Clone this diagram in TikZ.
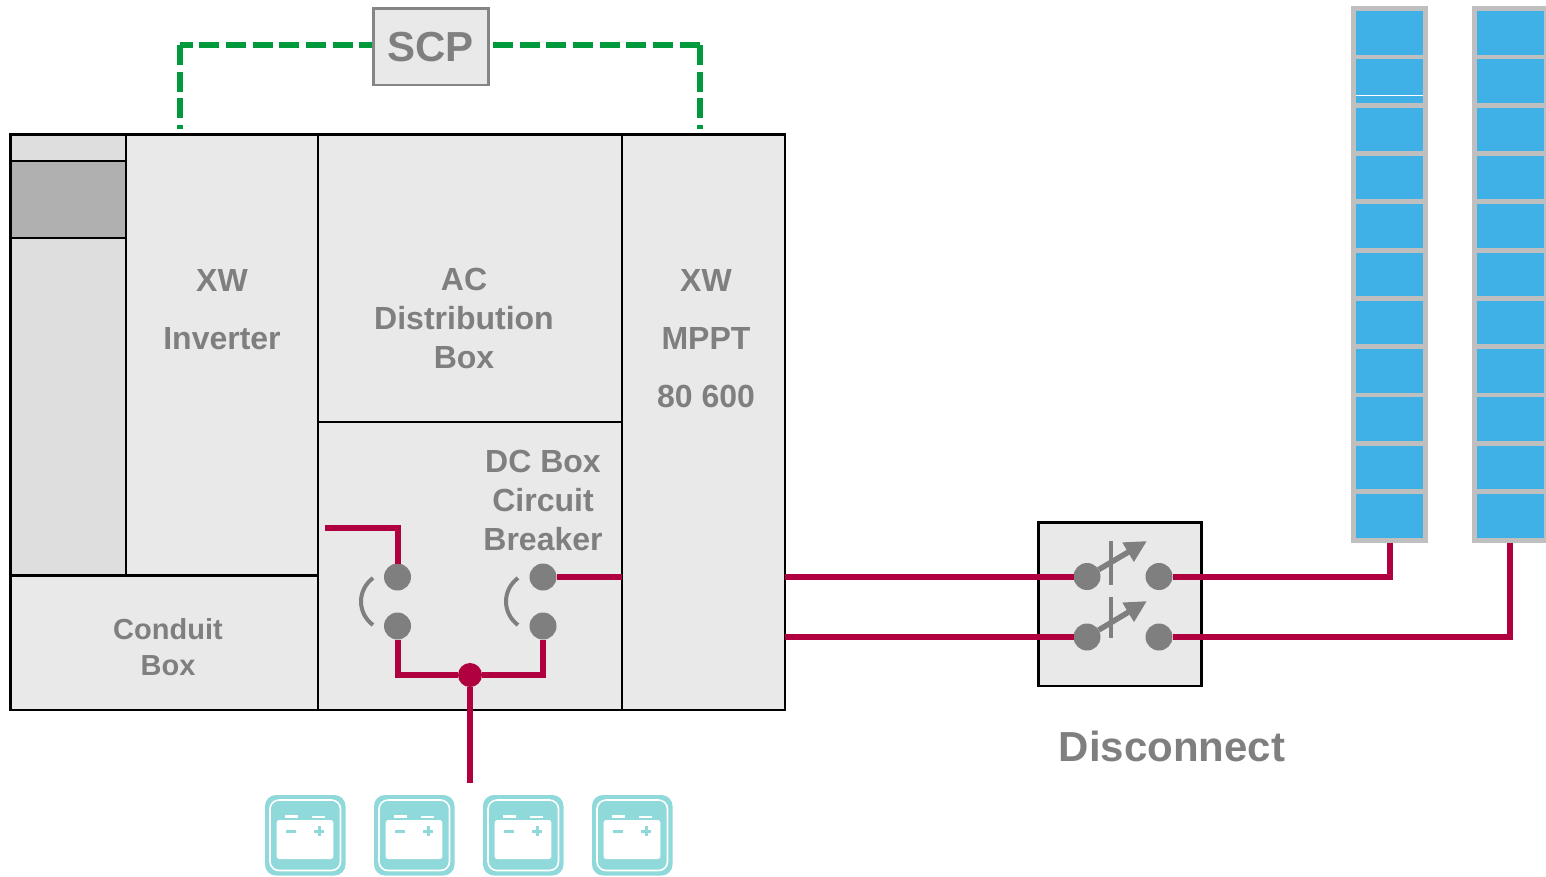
\documentclass[tikz,border=0pt]{standalone}
\usepackage{fontspec}
\setmainfont{Liberation Sans}
\usetikzlibrary{arrows.meta}
\definecolor{boxfill}{HTML}{E9E9E9}
\definecolor{leftfill}{HTML}{DEDEDE}
\definecolor{darkfill}{HTML}{B0B0B0}
\definecolor{txtgrey}{HTML}{7F7F7F}
\definecolor{wirered}{HTML}{B0003F}
\definecolor{linkgreen}{HTML}{009A3D}
\definecolor{cellblue}{HTML}{40B1E6}
\definecolor{frameg}{HTML}{BFBFBF}
\definecolor{batteal}{HTML}{8FD9DB}
\tikzset{
  x=1pt,y=-1pt,
  every node/.style={inner sep=0pt,outer sep=0pt},
  pbox/.style={draw=black,line width=2.6pt,fill=boxfill,rectangle},
  lab/.style={text=txtgrey,font=\fontsize{32}{39}\selectfont\bfseries,align=center},
  wire/.style={draw=wirered,line width=6pt},
  contact/.style={circle,fill=txtgrey,minimum size=27pt},
  gearc/.style={draw=txtgrey,line width=4pt},
  link/.style={draw=linkgreen,line width=6.5pt,dash pattern=on 20pt off 6.67pt},
  lever/.style={draw=txtgrey,line width=5.5pt,-{Triangle[length=22pt,width=21pt]}},
  divider/.style={draw=txtgrey,line width=4pt},
  cell/.style={rectangle,fill=cellblue},
  panel/.style={rectangle,fill=frameg}
}
\newcommand{\pnode}[6]{\node[#6,minimum width={((#4)-(#2))*1pt},minimum height={((#5)-(#3))*1pt}] (#1) at ({((#2)+(#4))/2},{((#3)+(#5))/2}) {};}
\begin{document}
\begin{tikzpicture}
\useasboundingbox (0,0) rectangle (1546,876);
% enclosure
\pnode{topslot}{10.5}{134.5}{126}{161}{pbox,fill=leftfill}
\pnode{darkslot}{10.5}{161}{126}{238}{pbox,fill=darkfill}
\pnode{lowslot}{10.5}{238}{126}{575.5}{pbox,fill=leftfill}
\pnode{inverter}{126}{134.5}{318}{575.5}{pbox}
\pnode{conduit}{10.5}{575.5}{318}{710}{pbox}
\pnode{acbox}{318}{134.5}{622}{422}{pbox}
\pnode{dcbox}{318}{422}{622}{710}{pbox}
\pnode{mppt}{622}{134.5}{785}{710}{pbox}
% labels
\node[lab,font=\fontsize{32}{58}\selectfont\bfseries] (invlab) at (222,309.5) {XW\\Inverter};
\node[lab] (aclab) at (464,318.7) {AC\\Distribution\\Box};
\node[lab,font=\fontsize{32}{58}\selectfont\bfseries] (mpptlab) at (706,339) {XW\\MPPT\\80 600};
\node[lab] (dclab) at (543,500.3) {DC Box\\Circuit\\Breaker};
\node[lab,font=\fontsize{29}{36}\selectfont\bfseries] (condlab) at (168,647) {Conduit\\Box};
\node[lab,font=\fontsize{42}{48}\selectfont\bfseries] (disclab) at (1172,746.5) {Disconnect};
% SCP link
\coordinate (gl) at (180,129);
\coordinate (gr) at (700,129);
\coordinate (cl) at (180,45);
\coordinate (cr) at (700,45);
\coordinate (scpl) at (379.3,45);
\coordinate (scpr) at (493,45);
\draw[link] (scpl) -- (cl);
\draw[link] (cl) -- (gl);
\draw[link] (scpr) -- (cr);
\draw[link] (cr) -- (gr);
\pnode{scp}{373.5}{8.5}{488.5}{85}{rectangle,draw=txtgrey!95!white,line width=2.8pt,fill=boxfill}
\node[lab,font=\fontsize{42}{48}\selectfont\bfseries] (scplab) at (430.5,47.5) {SCP};
% DC box breakers
\node[contact] (bl1) at (397.5,577) {};
\node[contact] (bl2) at (397.5,626) {};
\node[contact] (br1) at (543,577) {};
\node[contact] (br2) at (543,626) {};
\node[circle,fill=wirered,minimum size=24pt] (jn) at (470,675) {};
\coordinate (wstart) at (325,528);
\coordinate (wbat) at (470,783);
\draw[wire] (wstart) -| (bl1);
\draw[wire] (bl2) |- (jn);
\draw[wire] (br2) |- (jn);
\draw[wire] (jn) -- (wbat);
\draw[wire] (br1) -- (br1 -| mppt.west);
\draw[gearc] (373,578) .. controls (357,590) and (357,613) .. (373,625);
\draw[gearc] (518,578) .. controls (502,590) and (502,613) .. (518,625);
% disconnect
\pnode{disc}{1038.5}{522.5}{1201.5}{686}{pbox}
\node[contact] (sa1) at (1087,576.5) {};
\node[contact] (sa2) at (1159,576.5) {};
\node[contact] (sb1) at (1087,637) {};
\node[contact] (sb2) at (1159,637) {};
\coordinate (tipa) at (1147,541);
\coordinate (tipb) at (1147,601);
\draw[lever] (sa1) -- (tipa);
\draw[lever] (sb1) -- (tipb);
\coordinate (d1a) at (1111,541);
\coordinate (d1b) at (1111,585);
\coordinate (d2a) at (1111,597);
\coordinate (d2b) at (1111,638);
\draw[divider] (d1a) -- (d1b);
\draw[divider] (d2a) -- (d2b);
% solar strings
\pnode{panela}{1351}{6}{1428}{543}{panel}
\pnode{panelb}{1472}{6}{1546}{543}{panel}
\foreach \k in {0,...,10}{
  \pnode{ca\k}{1356}{11+48.3*\k}{1423}{54.5+48.3*\k}{cell}
  \pnode{cb\k}{1477}{11+48.3*\k}{1544}{54.5+48.3*\k}{cell}
}
\coordinate (glintl) at (1356,95.5);
\coordinate (glintr) at (1423,95.5);
\draw[white,line width=1pt] (glintl) -- (glintr);
% wires outside
\coordinate (pbend) at (1510,543);
\draw[wire] (mppt.east |- sa1) -- (sa1);
\draw[wire] (mppt.east |- sb1) -- (sb1);
\draw[wire] (sa2) -| (panela.south);
\draw[wire] (sb2) -| (pbend);
% batteries
\foreach \i/\x in {1/265,2/374,3/483,4/592}{
  \begin{scope}[shift={(\x,795)}]
    \node[rectangle,fill=batteal,rounded corners=11pt,minimum size=80.5pt] (bat\i) at (40.25,40.25) {};
    \draw[white,line width=1.6pt,rounded corners=9pt] (5,5) rectangle (75.5,75.5);
    \fill[white,rounded corners=2.5pt] (11.7,25) rectangle (68.3,64);
    \fill[white] (20,20) rectangle (33,23);
    \fill[white] (47,20.5) rectangle (60,23);
    \fill[batteal] (21,34.5) rectangle (31,37.5);
    \fill[batteal] (49,34.5) rectangle (59,37.5);
    \fill[batteal] (52.5,31) rectangle (55.5,41);
  \end{scope}
}
\end{tikzpicture}
\end{document}
